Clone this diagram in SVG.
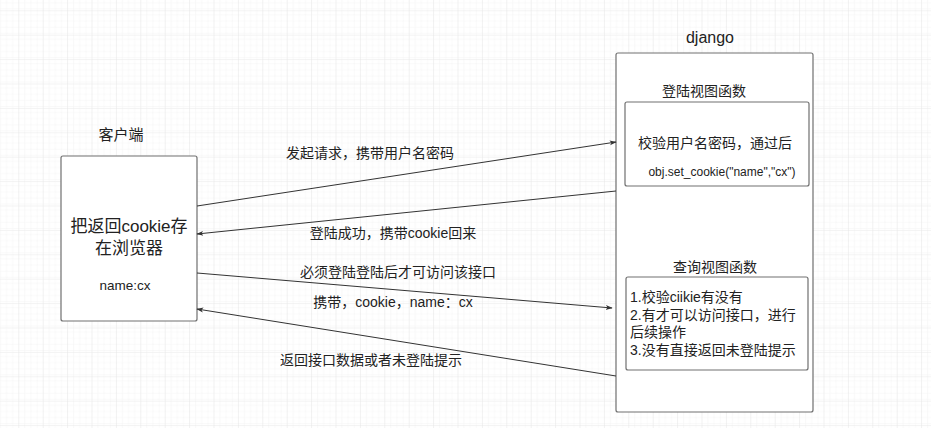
<svg xmlns="http://www.w3.org/2000/svg" width="931" height="428" viewBox="0 0 931 428">
<defs>
<pattern id="minor" x="18.3" y="10.3" width="6.1" height="6.1" patternUnits="userSpaceOnUse">
<path d="M0 0H6.1M0 0V6.1" fill="none" stroke="#f3f3f3" stroke-width="1"/>
</pattern>
<pattern id="major" x="18.3" y="10.3" width="24.4" height="24.4" patternUnits="userSpaceOnUse">
<rect width="24.4" height="24.4" fill="url(#minor)"/>
<path d="M0 0H24.4M0 0V24.4" fill="none" stroke="#e8e8e8" stroke-width="1"/>
</pattern>
<marker id="arr" viewBox="0 0 10 10" refX="9" refY="5" markerWidth="7" markerHeight="7" markerUnits="userSpaceOnUse" orient="auto">
<path d="M0 1.5L10 5L0 8.5L2.5 5Z" fill="#333"/>
</marker>
<style>
text{font-family:"Liberation Sans","Noto Sans CJK SC",sans-serif;fill:#222}
.box{fill:#fff;stroke:#707070;stroke-width:1.2}
.c{text-anchor:middle}
.f14{font-size:14px}
.edge{fill:none;stroke:#333;stroke-width:1;marker-end:url(#arr)}
</style>
</defs>
<rect width="931" height="428" fill="#fff"/>
<rect width="931" height="428" fill="url(#major)"/>

<g id="client">
<text class="c" x="121" y="140" font-size="15">客户端</text>
<rect class="box" x="61" y="156" width="136" height="165" rx="2"/>
<text class="c" x="129" y="232" font-size="17">把返回cookie存</text>
<text class="c" x="129" y="254" font-size="17">在浏览器</text>
<text class="c" x="125" y="290" font-size="13.5">name:cx</text>
</g>

<g id="django">
<text class="c" x="710" y="43" font-size="16">django</text>
<rect class="box" x="616" y="53" width="197" height="359" rx="2"/>
</g>

<g id="login-view">
<text class="c f14" x="704" y="96">登陆视图函数</text>
<rect class="box" x="625" y="102" width="184" height="84" rx="2"/>
<text class="c f14" x="715" y="148">校验用户名密码，通过后</text>
<text class="c" x="722" y="176" font-size="12">obj.set_cookie("name","cx")</text>
</g>

<g id="query-view">
<text class="c f14" x="715" y="272">查询视图函数</text>
<rect class="box" x="626" y="277" width="182" height="93" rx="2"/>
<text class="f14" x="630" y="302">1.校验ciikie有没有</text>
<text class="f14" x="630" y="320">2.有才可以访问接口，进行</text>
<text class="f14" x="630" y="337">后续操作</text>
<text class="f14" x="630" y="355">3.没有直接返回未登陆提示</text>
</g>

<g id="connectors">
<line class="edge" x1="197" y1="206" x2="616" y2="142"/>
<line class="edge" x1="616" y1="191" x2="197" y2="234"/>
<line class="edge" x1="197" y1="273" x2="612" y2="308"/>
<line class="edge" x1="616" y1="376" x2="197" y2="309"/>
<text class="c f14" x="370" y="158">发起请求，携带用户名密码</text>
<text class="c f14" x="393" y="238">登陆成功，携带cookie回来</text>
<text class="c f14" x="398" y="277">必须登陆登陆后才可访问该接口</text>
<text class="c f14" x="393" y="307">携带，cookie，name：cx</text>
<text class="c f14" x="371" y="365">返回接口数据或者未登陆提示</text>
</g>
</svg>
